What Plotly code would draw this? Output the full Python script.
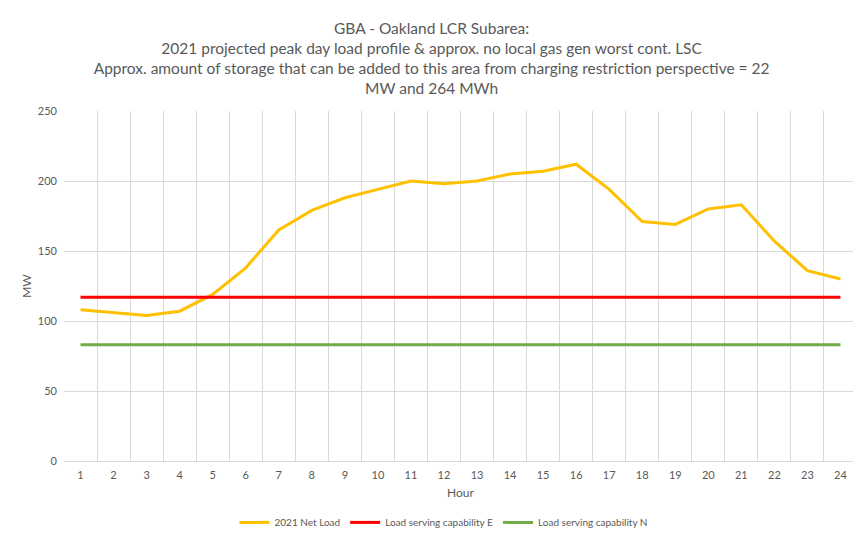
import plotly.graph_objects as go

hours = list(range(1, 25))
net_load = [108, 106, 104, 107, 119, 138, 165, 179, 188, 194, 200, 198,
            200, 205, 207, 212, 194, 171, 169, 180, 183, 157, 136, 130]
cap_e = [117] * 24
cap_n = [83] * 24

title_text = ("GBA - Oakland LCR Subarea:<br>"
              "2021 projected peak day load profile &amp; approx. no local gas gen worst cont. LSC<br>"
              "Approx. amount of storage that can be added to this area from charging restriction perspective = 22<br>"
              "MW and 264 MWh")

font_family = "Lato, Open Sans, sans-serif"
gray = "#595959"

fig = go.Figure()
fig.add_trace(go.Scatter(x=hours, y=net_load, mode="lines", name="2021 Net Load",
                         line=dict(color="#FFC000", width=3)))
fig.add_trace(go.Scatter(x=hours, y=cap_e, mode="lines", name="Load serving capability E",
                         line=dict(color="#FF0000", width=3)))
fig.add_trace(go.Scatter(x=hours, y=cap_n, mode="lines", name="Load serving capability N",
                         line=dict(color="#70AD47", width=3)))

fig.update_layout(
    width=861, height=540,
    paper_bgcolor="white", plot_bgcolor="white",
    margin=dict(l=56, r=12, t=103, b=87, autoexpand=False),
    font=dict(family=font_family, color=gray, size=11),
    title=dict(text=title_text, x=0.492, xanchor="center", y=0.952, yanchor="top",
               font=dict(family=font_family, size=15.5, color=gray)),
    xaxis=dict(
        range=[0.5, 24.5], tickmode="array", tickvals=hours,
        showgrid=False, zeroline=False,
        showline=True, linecolor="#d9d9d9", linewidth=1,
        ticks="", tickfont=dict(size=11, color=gray), ticklabelstandoff=4,
        minor=dict(tick0=0.5, dtick=1, showgrid=True, gridcolor="#d9d9d9", gridwidth=1),
        title=dict(text="Hour", font=dict(size=12, color=gray), standoff=8),
        automargin=False,
    ),
    yaxis=dict(
        range=[0, 250], tickmode="array", tickvals=[0, 50, 100, 150, 200, 250],
        showgrid=True, gridcolor="#d9d9d9", gridwidth=1, zeroline=False,
        showline=False, ticks="", tickfont=dict(size=11, color=gray), ticklabelstandoff=6,
        title=dict(text="MW", font=dict(size=12, color=gray), standoff=3),
        automargin=False,
    ),
    legend=dict(orientation="h", x=0.215, xanchor="left", y=-0.134, yanchor="top",
                font=dict(size=10, color=gray), itemwidth=30, tracegroupgap=0),
    showlegend=True,
)

fig.write_html("out.html")
